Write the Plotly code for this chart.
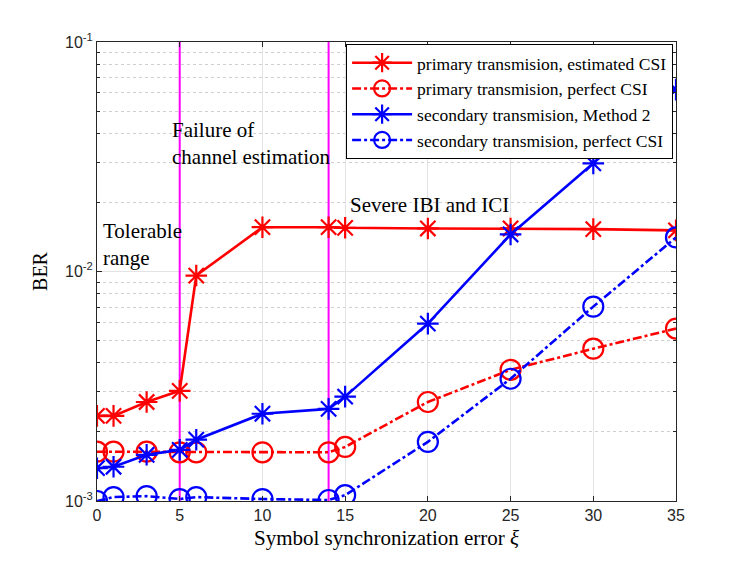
import plotly.graph_objects as go
import math

x_vals = [0, 1, 3, 5, 6, 10, 14, 15, 20, 25, 30, 35]

primary_est = [0.00235, 0.00235, 0.0027, 0.00302, 0.0096, 0.0156, 0.0156, 0.0155, 0.0154, 0.0154, 0.0153, 0.0151]
primary_perf = [0.00164, 0.00164, 0.00164, 0.00163, 0.00163, 0.00163, 0.00163, 0.00172, 0.0027, 0.00373, 0.00461, 0.00564]
secondary_m2 = [0.00139, 0.00141, 0.00159, 0.00167, 0.00185, 0.0024, 0.00252, 0.00285, 0.00593, 0.0145, 0.0296, 0.0620]
secondary_perf = [0.00100, 0.00104, 0.00105, 0.00102, 0.00104, 0.00102, 0.00101, 0.00106, 0.00181, 0.00341, 0.00703, 0.01407]

names = [
    "primary transmision, estimated CSI",
    "primary transmision, perfect CSI",
    "secondary transmision, Method 2",
    "secondary transmision, perfect CSI",
]

vlines_x = [5, 14]

y_tickvals = [0.001, 0.01, 0.1]
y_ticktext = ["10<sup>-3</sup>", "10<sup>-2</sup>", "10<sup>-1</sup>"]
y_minor = [m * 10 ** e for e in (-3, -2) for m in range(2, 10)]
x_tickvals = [0, 5, 10, 15, 20, 25, 30, 35]

annotations_text = [
    (0.24, 0.0131, "Tolerable<br>range"),
    (4.4, 0.0362, "Failure of<br>channel estimation"),
    (15.15, 0.0194, "Severe IBI and ICI"),
]

RED = "#ff0000"
BLUE = "#0000ff"
MAG = "#ff00ff"
SERIF = "Liberation Serif, serif"

fig = go.Figure()

for xv in vlines_x:
    fig.add_trace(go.Scatter(x=[xv, xv], y=[0.001, 0.1], mode="lines",
                             line=dict(color=MAG, width=2), showlegend=False,
                             hoverinfo="skip"))

series = [
    (primary_est, RED, "solid", "asterisk-open", 18),
    (primary_perf, RED, "dashdot", "circle-open", 20),
    (secondary_m2, BLUE, "solid", "asterisk-open", 18),
    (secondary_perf, BLUE, "dashdot", "circle-open", 20),
]
for (vals, col, dash, sym, sz), nm in zip(series, names):
    fig.add_trace(go.Scatter(
        x=x_vals, y=vals, mode="lines+markers", name=nm,
        line=dict(color=col, width=2.6, dash=dash),
        marker=dict(symbol=sym, size=sz, color=col, line=dict(color=col, width=2.2)),
    ))

for xa, ya, t in annotations_text:
    fig.add_annotation(x=xa, y=math.log10(ya), yref="y", xref="x", text=t, showarrow=False,
                       xanchor="left", yanchor="middle", align="left",
                       font=dict(family=SERIF, size=21, color="black"))

fig.update_layout(
    width=747, height=561,
    margin=dict(l=89, r=79, t=34, b=68, autoexpand=False),
    paper_bgcolor="white", plot_bgcolor="white",
    showlegend=True,
    legend=dict(x=0.995, y=0.996, xanchor="right", yanchor="top",
                bgcolor="white", bordercolor="black", borderwidth=1,
                font=dict(family=SERIF, size=17.5, color="black"),
                tracegroupgap=0, itemwidth=60),
    font=dict(family="Liberation Sans", size=15, color="#262626"),
)

fig.update_xaxes(
    range=[0, 35], tickvals=x_tickvals, showgrid=True, gridcolor="#e3e3e3", gridwidth=1,
    showline=True, linecolor="#262626", linewidth=1, mirror="ticks",
    ticks="inside", ticklen=5, tickcolor="#262626", zeroline=False, automargin=False,
    title=dict(text="Symbol synchronization error <i>ξ</i>", font=dict(family=SERIF, size=21, color="black"), standoff=7),
    tickfont=dict(family="Liberation Sans", size=16, color="#262626"),
)
fig.update_yaxes(
    type="log", range=[-3, -1], tickvals=y_tickvals, ticktext=y_ticktext,
    showgrid=True, gridcolor="#e3e3e3", gridwidth=1,
    showline=True, linecolor="#262626", linewidth=1, mirror="ticks",
    ticks="inside", ticklen=5, tickcolor="#262626", zeroline=False, automargin=False,
    minor=dict(tickvals=y_minor, ticks="inside", ticklen=3, tickcolor="#262626", showgrid=True,
               gridcolor="#cfcfcf", griddash="dot", gridwidth=1),
    title=dict(text="BER", font=dict(family=SERIF, size=20, color="black"), standoff=12),
    tickfont=dict(family="Liberation Sans", size=16, color="#262626"),
)

fig.write_html("out.html")
